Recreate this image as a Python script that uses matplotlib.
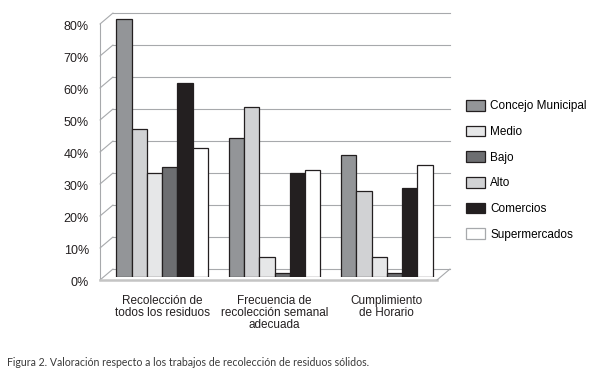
import matplotlib.pyplot as plt
import matplotlib.transforms as mtransforms
from matplotlib.patches import Patch, ConnectionPatch

plt.rcParams['font.family'] = ['Liberation Sans', 'DejaVu Sans']

categories = ['Recolección de\ntodos los residuos',
              'Frecuencia de\nrecolección semanal\nadecuada',
              'Cumplimiento\nde Horario']
# bars in the order they stand inside each group
concejo = [80.4, 43.2, 37.9]
alto = [46.0, 52.9, 26.6]
medio = [32.3, 6.0, 6.0]
bajo = [34.1, 1.0, 1.0]
comercios = [60.4, 32.3, 27.7]
super_m = [40.1, 33.2, 34.8]
yticks = [0, 10, 20, 30, 40, 50, 60, 70, 80]

series = [('Concejo Municipal', concejo, '#939598'),
          ('Alto', alto, '#d1d2d4'),
          ('Medio', medio, '#e6e7e8'),
          ('Bajo', bajo, '#6d6e71'),
          ('Comercios', comercios, '#231f20'),
          ('Supermercados', super_m, '#ffffff')]
legend_order = ['Concejo Municipal', 'Medio', 'Bajo', 'Alto', 'Comercios', 'Supermercados']

fig = plt.figure(figsize=(5.96, 3.77), dpi=100)
ax = fig.add_axes([106 / 596, 100.5 / 377, 337 / 596, 272 / 377])
ax.set_xlim(-0.5, 2.5)
ax.set_ylim(0, 85)
for s in ax.spines.values():
    s.set_visible(False)

# fake 3d frame: front and back planes shifted a few pixels
px = fig.dpi_scale_trans
front = ax.transData + mtransforms.ScaledTranslation(-6 / 100, -3.5 / 100, px)
back = ax.transData + mtransforms.ScaledTranslation(7 / 100, 7.5 / 100, px)
grid_c = '#a7a9ac'

for v in yticks:
    ax.plot([-0.5, 2.5], [v, v], color=grid_c, lw=0.8, transform=back, zorder=1, clip_on=False)
    ax.add_artist(ConnectionPatch((-0.5, v), (-0.5, v), coordsA=front, coordsB=back,
                                  color=grid_c, lw=0.8, zorder=1, clip_on=False))
    ax.text(-0.5, v, f'{v}%', transform=front + mtransforms.ScaledTranslation(-11 / 100, -3.5 / 100, px),
            ha='right', va='center', fontsize=9, color='#231f20')
ax.plot([-0.5, -0.5], [0, 80], color=grid_c, lw=0.8, transform=front, zorder=1, clip_on=False)
ax.plot([-0.5, 2.5], [0, 0], color='#c4c4c4', lw=1.8, transform=front, zorder=1, clip_on=False)
ax.add_artist(ConnectionPatch((2.5, 0), (2.5, 0), coordsA=front, coordsB=back,
                              color=grid_c, lw=0.8, zorder=1, clip_on=False))

w = 0.136
for i, (name, vals, col) in enumerate(series):
    xs = [k + (i - 2.5) * w for k in range(len(categories))]
    ax.bar(xs, vals, width=w, color=col, edgecolor='#231f20', linewidth=0.9, zorder=3, label=name)

ax.set_xticks(range(len(categories)))
ax.set_xticklabels(categories, fontsize=8.5, linespacing=1.0, color='#231f20')
ax.tick_params(axis='x', length=0, pad=13)
ax.set_yticks([])

colors = {n: c for n, _, c in series}
handles = []
for n in legend_order:
    ec = '#a7a9ac' if n == 'Supermercados' else '#231f20'
    handles.append(Patch(facecolor=colors[n], edgecolor=ec, linewidth=0.9, label=n))
fig.legend(handles=handles, loc='upper left', bbox_to_anchor=(466 / 596, 1 - 100 / 377),
           frameon=False, fontsize=8.5, handlelength=1.6, handleheight=1.0,
           handletextpad=0.45, labelspacing=1.13, borderpad=0, borderaxespad=0)

fig.text(7 / 596, 1 - 363 / 377,
         'Figura 2. Valoración respecto a los trabajos de recolección de residuos sólidos.',
         family=['Lato', 'DejaVu Sans'], fontsize=7.6, color='#3a3a3a', va='center', ha='left')

fig.savefig('out.png', dpi=100)
